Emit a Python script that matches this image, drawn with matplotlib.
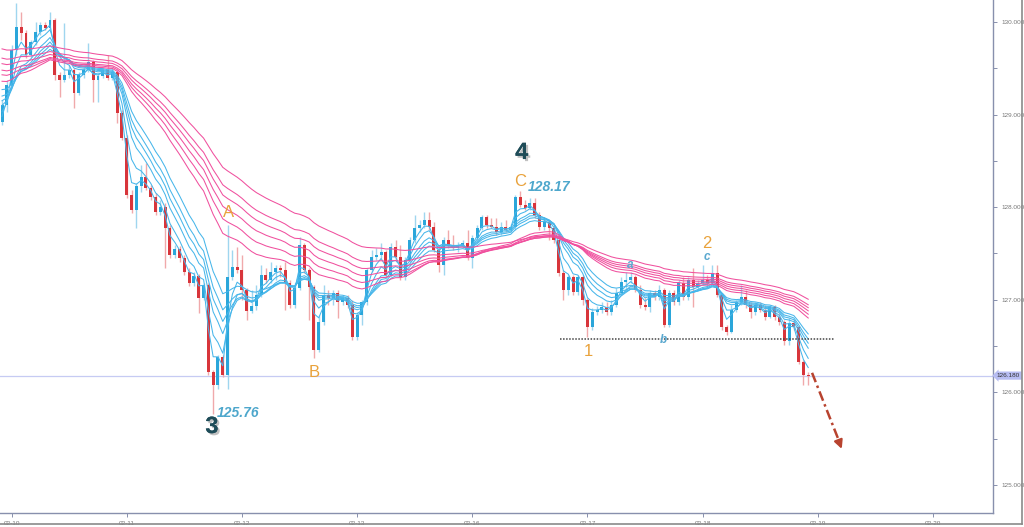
import matplotlib.pyplot as plt
import matplotlib.transforms as mtransforms
import matplotlib.patheffects as pe
import numpy as np

# hourly candles, open = previous close
open_first = 128.92
closes = [129.10, 129.32, 129.70, 129.95, 129.88, 129.64, 129.78, 129.89, 129.97, 129.94, 130.02, 129.43,
          129.37, 129.43, 129.48, 129.23, 129.43, 129.48, 129.57, 129.37, 129.42, 129.48, 129.40, 129.46,
          129.02, 128.75, 128.13, 127.97, 128.23, 128.33, 128.21, 128.11, 127.95, 128.00, 127.78, 127.48,
          127.55, 127.45, 127.30, 127.18, 127.26, 127.02, 127.16, 126.22, 126.08, 126.38, 126.19, 127.25,
          127.35, 127.32, 127.11, 126.88, 126.93, 127.05, 127.27, 127.21, 127.30, 127.34, 127.32, 127.18,
          126.94, 127.13, 127.59, 127.32, 127.14, 126.46, 126.76, 127.05, 127.02, 127.07, 126.97, 127.02,
          126.94, 126.60, 126.83, 126.97, 127.32, 127.46, 127.48, 127.51, 127.27, 127.57, 127.46, 127.25,
          127.43, 127.65, 127.78, 127.81, 127.86, 127.79, 127.54, 127.38, 127.65, 127.58, 127.56, 127.59,
          127.61, 127.45, 127.67, 127.78, 127.89, 127.81, 127.79, 127.73, 127.79, 127.75, 127.79, 128.11,
          128.02, 127.99, 128.05, 127.92, 127.79, 127.84, 127.78, 127.65, 127.29, 127.11, 127.24, 127.08,
          127.24, 127.00, 126.71, 126.87, 126.89, 126.92, 126.87, 126.94, 127.07, 127.19, 127.21, 127.24,
          127.11, 126.94, 126.92, 127.07, 127.03, 127.11, 126.73, 127.07, 126.98, 127.18, 127.03, 127.21,
          127.14, 127.18, 127.21, 127.18, 127.29, 127.05, 126.71, 126.65, 126.89, 126.97, 127.03, 126.94,
          126.87, 126.94, 126.89, 126.81, 126.92, 126.81, 126.76, 126.55, 126.75, 126.70, 126.33, 126.19,
          126.18]
highs = [129.16, 129.37, 129.75, 130.21, 130.11, 129.91, 129.81, 130.00, 130.00, 130.00, 130.11, 130.04,
         129.46, 129.99, 129.54, 129.50, 129.46, 129.51, 129.77, 129.59, 129.44, 129.50, 129.64, 129.50,
         129.48, 129.05, 128.78, 128.19, 128.26, 128.46, 128.48, 128.24, 128.15, 128.08, 128.04, 127.81,
         127.59, 127.58, 127.48, 127.34, 127.30, 127.28, 127.18, 127.18, 126.24, 126.40, 126.40, 127.81,
         127.54, 127.57, 127.48, 127.13, 127.11, 127.16, 127.38, 127.34, 127.41, 127.38, 127.38, 127.41,
         127.21, 127.18, 127.68, 127.61, 127.34, 127.16, 126.84, 127.16, 127.11, 127.11, 127.11, 127.05,
         127.05, 127.00, 126.87, 127.00, 127.34, 127.54, 127.56, 127.61, 127.54, 127.61, 127.65, 127.59,
         127.46, 127.68, 127.92, 127.86, 127.95, 127.95, 127.84, 127.59, 127.68, 127.75, 127.70, 127.62,
         127.65, 127.75, 127.70, 127.81, 127.92, 127.92, 127.88, 127.88, 127.84, 127.86, 127.82, 128.13,
         128.17, 128.08, 128.10, 128.10, 127.95, 127.88, 127.86, 127.81, 127.67, 127.32, 127.27, 127.27,
         127.27, 127.27, 127.02, 126.91, 126.93, 126.97, 126.97, 127.00, 127.13, 127.24, 127.30, 127.30,
         127.27, 127.16, 127.02, 127.11, 127.11, 127.16, 127.13, 127.11, 127.11, 127.21, 127.24, 127.25,
         127.34, 127.21, 127.38, 127.27, 127.38, 127.38, 127.07, 126.73, 126.94, 127.00, 127.16, 127.11,
         126.97, 126.97, 126.97, 126.94, 126.94, 126.94, 126.86, 126.78, 126.80, 126.78, 126.72, 126.35,
         126.22]
lows = [128.89, 129.03, 129.59, 129.64, 129.81, 129.61, 129.62, 129.75, 129.86, 129.91, 129.91, 129.37,
        129.19, 129.35, 129.40, 129.07, 129.21, 129.40, 129.46, 129.14, 129.14, 129.40, 129.37, 129.37,
        128.91, 128.73, 128.10, 127.94, 127.78, 128.16, 128.19, 128.08, 127.92, 127.92, 127.34, 127.45,
        127.45, 127.41, 127.27, 127.15, 127.15, 126.86, 127.00, 126.19, 125.76, 126.03, 126.16, 126.03,
        127.21, 127.29, 127.00, 126.78, 126.86, 126.89, 127.03, 127.18, 127.18, 127.21, 127.24, 126.89,
        126.91, 126.91, 127.11, 127.29, 126.78, 126.37, 126.44, 126.73, 126.94, 126.94, 126.80, 126.94,
        126.91, 126.57, 126.57, 126.73, 126.94, 127.30, 127.43, 127.45, 127.24, 127.24, 127.43, 127.21,
        127.21, 127.41, 127.61, 127.73, 127.78, 127.75, 127.52, 127.30, 127.27, 127.56, 127.54, 127.52,
        127.56, 127.43, 127.34, 127.65, 127.75, 127.78, 127.78, 127.70, 127.70, 127.73, 127.73, 127.75,
        128.00, 127.97, 127.97, 127.88, 127.75, 127.75, 127.65, 127.61, 127.26, 127.00, 127.05, 127.05,
        127.05, 126.94, 126.60, 126.67, 126.84, 126.86, 126.84, 126.84, 126.92, 127.05, 127.11, 127.18,
        127.08, 126.91, 126.89, 126.87, 127.00, 127.00, 126.71, 126.70, 126.94, 126.94, 127.00, 127.00,
        126.92, 127.11, 127.16, 127.15, 127.16, 127.03, 126.67, 126.62, 126.64, 126.87, 126.94, 126.91,
        126.80, 126.84, 126.87, 126.78, 126.80, 126.78, 126.73, 126.51, 126.51, 126.67, 126.30, 126.08,
        126.08]

# guppy ribbons: period -> value at first candle
fast_seed = {3: 128.98, 5: 129.03, 8: 129.10, 10: 129.15, 12: 129.20, 15: 129.27}
slow_seed = {30: 129.36, 35: 129.43, 40: 129.48, 45: 129.55, 50: 129.61, 60: 129.71}

day_index = [2, 26, 50, 74, 98, 122, 146, 170, 194]
day_labels = ["02-10", "02-11", "02-12", "02-13", "02-16", "02-17", "02-18", "02-19", "02-20"]

last_price = 126.18
support = 126.58

closes = np.array(closes)
opens = np.concatenate([[open_first], closes[:-1]])
highs = np.array(highs)
lows = np.array(lows)
x = np.arange(len(closes))


def ema(values, period, seed):
    a = 2.0 / (period + 1)
    out = [seed]
    for v in values[1:]:
        out.append(out[-1] + a * (v - out[-1]))
    return np.array(out)


plt.rcParams['font.family'] = ['Liberation Sans', 'DejaVu Sans']

fig = plt.figure(figsize=(10.24, 5.27), dpi=100)
ax = fig.add_axes([0.0, 0.027, 0.9697, 0.973])

UP, DOWN = "#2aa6da", "#d8353b"
UP_W, DOWN_W = "#9fd6ef", "#f0a9ab"

for i in x:
    up = closes[i] >= opens[i]
    ax.vlines(i, lows[i], highs[i], color=UP_W if up else DOWN_W, lw=1.0, zorder=2)
    lo, hi = min(opens[i], closes[i]), max(opens[i], closes[i])
    ax.bar(i, max(hi - lo, 0.01), bottom=lo, width=0.62, color=UP if up else DOWN,
           linewidth=0, zorder=3)

for p, s in fast_seed.items():
    ax.plot(x, ema(closes, p, s), color="#47b6ea", lw=0.75, zorder=4)
for p, s in slow_seed.items():
    ax.plot(x, ema(closes, p, s), color="#f0509e", lw=0.75, zorder=4)

# last price line and label
ax.axhline(last_price, color="#c6cbf3", lw=0.9, zorder=1)
trans = mtransforms.blended_transform_factory(ax.transAxes, ax.transData)
ax.text(1.004, last_price, f"{last_price:.3f}", transform=trans, fontsize=4.6, color="#333333",
        va="center", ha="left", clip_on=False,
        bbox=dict(boxstyle="larrow,pad=0.25", fc="#b7bdf2", ec="none"))

# support line
ax.plot([116.3, 173.5], [support, support], color="#444444", lw=1.1, ls=(0, (1, 1)), zorder=5)

# projected move
ax.plot([168.8, 174.6], [126.21, 125.45], color="#b8432f", lw=1.8, ls=(0, (4, 1.5, 1, 1.5)), zorder=5)
ax.annotate("", xy=(175.2, 125.36), xytext=(174.3, 125.48),
            arrowprops=dict(arrowstyle="-|>,head_length=0.5,head_width=0.25", color="#b8432f", lw=1.6))

# wave labels
orange = "#e9a23b"
for t, xi, yi in [("A", 47.1, 127.94), ("B", 65.0, 126.21), ("C", 107.9, 128.28),
                  ("1", 122.1, 126.44), ("2", 146.9, 127.61)]:
    ax.text(xi, yi, t, color=orange, fontsize=12, ha="center", va="center", zorder=6)

shadow = [pe.withSimplePatchShadow(offset=(1.5, -1.5), shadow_rgbFace="#999999", alpha=0.6), pe.Normal()]
for t, xi, yi in [("3", 43.75, 125.63), ("4", 108.3, 128.59)]:
    ax.text(xi, yi, t, color="#1e4c58", fontsize=17, fontweight="bold", ha="center", va="center",
            path_effects=shadow, zorder=6)

for t, xi, yi in [("128.17", 109.6, 128.22), ("125.76", 44.8, 125.78)]:
    ax.text(xi, yi, t, color="#4ea7cc", fontsize=10, fontweight="bold", fontstyle="italic",
            ha="left", va="center", zorder=6)

for t, xi, yi in [("a", 130.8, 127.38), ("b", 137.9, 126.57), ("c", 146.9, 127.46)]:
    ax.text(xi, yi, t, color="#5aa8cf", fontsize=8.5, fontweight="bold", fontstyle="italic",
            ha="center", va="center", zorder=6)

# axes styling
ax.set_xlim(-0.42, 206.5)
ax.set_ylim(124.698, 130.238)
ax.yaxis.tick_right()
ax.set_yticks(np.arange(125, 130.5, 0.5))
ax.set_yticklabels([f"{v:.3f}" if v == int(v) else "" for v in np.arange(125, 130.5, 0.5)])
ax.set_xticks(day_index)
ax.set_xticklabels(day_labels)
ax.tick_params(axis="both", labelsize=4.6, labelcolor="#777777", color="#8890ad", length=3, width=0.7, pad=3)
for side in ["top", "left"]:
    ax.spines[side].set_visible(False)
for side in ["right", "bottom"]:
    ax.spines[side].set_color("#8890ad")
    ax.spines[side].set_linewidth(1.0)

# outer frame
fig.add_artist(plt.Line2D([0.998, 0.998], [0.005, 1.0], color="#8a8a8a", lw=1.2, transform=fig.transFigure))
fig.add_artist(plt.Line2D([0.0, 0.998], [0.005, 0.005], color="#8a8a8a", lw=1.2, transform=fig.transFigure))

fig.savefig("out.png", dpi=100)
